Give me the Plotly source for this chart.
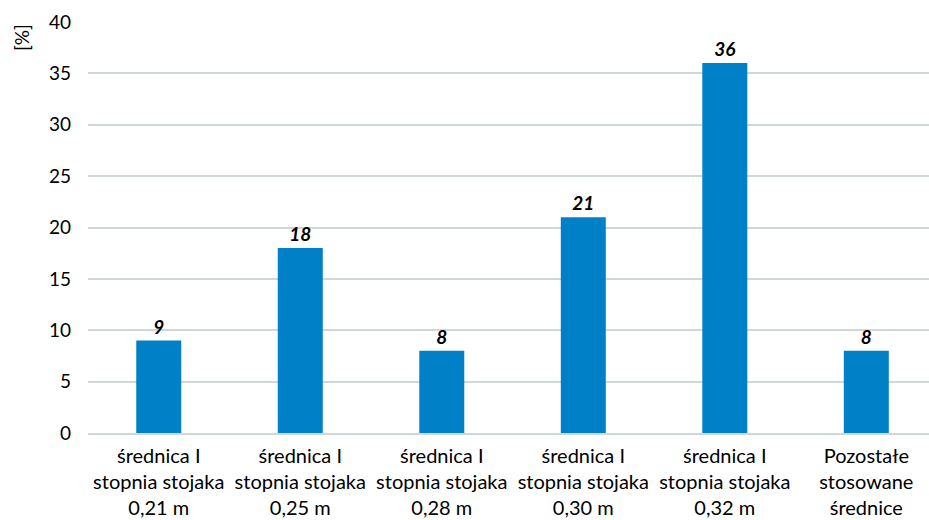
import plotly.graph_objects as go

categories = [
    "średnica I<br>stopnia stojaka<br>0,21 m",
    "średnica I<br>stopnia stojaka<br>0,25 m",
    "średnica I<br>stopnia stojaka<br>0,28 m",
    "średnica I<br>stopnia stojaka<br>0,30 m",
    "średnica I<br>stopnia stojaka<br>0,32 m",
    "Pozostałe<br>stosowane<br>średnice",
]
values = [9, 18, 8, 21, 36, 8]
y_ticks = [0, 5, 10, 15, 20, 25, 30, 35, 40]

FONT = "Lato, 'Open Sans', sans-serif"
x_pos = list(range(len(categories)))

fig = go.Figure(
    go.Bar(
        x=x_pos,
        y=values,
        width=0.318,
        marker=dict(color="#0080c6", line=dict(width=0)),
        text=[str(v) for v in values],
        textposition="outside",
        texttemplate="<b><i>%{text}</i></b>",
        textfont=dict(family=FONT, size=19, color="#000000"),
        cliponaxis=False,
    )
)

fig.update_layout(
    width=929,
    height=520,
    margin=dict(l=88, r=0, t=22, b=87),
    paper_bgcolor="white",
    plot_bgcolor="white",
    showlegend=False,
    font=dict(family=FONT, size=19, color="#000000"),
    xaxis=dict(
        range=[-0.5, 5.443],
        tickmode="array",
        tickvals=x_pos,
        ticktext=categories,
        showgrid=False,
        showline=True,
        linecolor="#d0d7d9",
        linewidth=2,
        ticks="",
        ticklabelstandoff=4,
        automargin=False,
        tickfont=dict(family=FONT, size=20),
    ),
    yaxis=dict(
        range=[0, 40],
        tickvals=y_ticks,
        showgrid=True,
        gridcolor="#d0d7d9",
        gridwidth=2,
        zeroline=False,
        showline=False,
        ticks="",
        ticklabelstandoff=16,
        automargin=False,
        tickfont=dict(family=FONT, size=19),
    ),
    annotations=[
        dict(
            text="[%]",
            textangle=-90,
            xref="paper",
            yref="paper",
            x=-0.079,
            y=1.0,
            xanchor="center",
            yanchor="top",
            showarrow=False,
            font=dict(family=FONT, size=19),
        )
    ],
)

fig.write_html("out.html")
